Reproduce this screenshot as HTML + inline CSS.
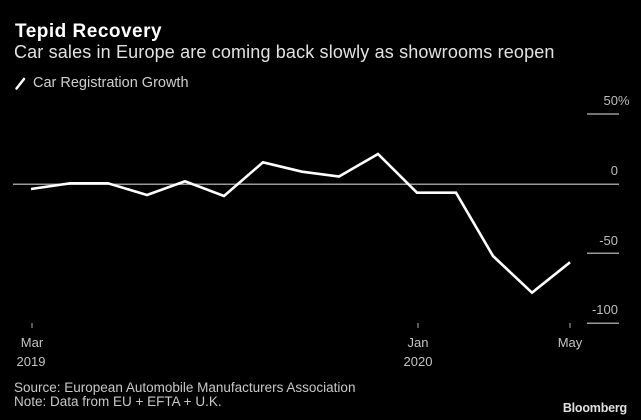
<!DOCTYPE html>
<html><head><meta charset="utf-8"><style>
html,body{margin:0;padding:0;background:#000;}
body{width:641px;height:420px;overflow:hidden;}
svg{display:block;}
</style></head><body>
<svg width="641" height="420" viewBox="0 0 641 420" xmlns="http://www.w3.org/2000/svg">
<rect width="641" height="420" fill="#000"/>
<text x="15" y="37" font-family="Liberation Sans, sans-serif" font-weight="bold" font-size="19" letter-spacing="0.5" fill="#fff">Tepid Recovery</text>
<text x="14" y="58" font-family="Liberation Sans, sans-serif" font-size="18" letter-spacing="0.15" fill="#e2e2e2">Car sales in Europe are coming back slowly as showrooms reopen</text>
<line x1="16.5" y1="88.5" x2="24" y2="79" stroke="#fff" stroke-width="2.5" stroke-linecap="round"/>
<text x="33" y="87" font-family="Liberation Sans, sans-serif" font-size="14.5" fill="#cfcfcf">Car Registration Growth</text>

<!-- grid -->
<line x1="587" y1="114" x2="619" y2="114" stroke="#999" stroke-width="1.5"/>
<line x1="13" y1="184.3" x2="619" y2="184.3" stroke="#999" stroke-width="1.5"/>
<line x1="587" y1="253.3" x2="619" y2="253.3" stroke="#999" stroke-width="1.5"/>
<line x1="587" y1="323.3" x2="619" y2="323.3" stroke="#999" stroke-width="1.5"/>

<g font-family="Liberation Sans, sans-serif" font-size="13" fill="#bdbdbd">
<text x="618" y="105" text-anchor="end">50</text>
<text x="618" y="105">%</text>
<text x="618" y="175" text-anchor="end">0</text>
<text x="618" y="245" text-anchor="end">-50</text>
<text x="618" y="314" text-anchor="end">-100</text>
</g>

<polyline fill="none" stroke="#fff" stroke-width="2.6" stroke-linejoin="miter" points="31,189 70,183.3 108,183.3 147,195 185,181.3 224,196 263,162.3 302,171.7 339,176.5 378,154 417,192.7 456,192.7 493,256 532,292.7 570,262.3"/>

<!-- x ticks -->
<g stroke="#aaa" stroke-width="1">
<line x1="32" y1="323" x2="32" y2="328"/>
<line x1="418" y1="323" x2="418" y2="328"/>
<line x1="570" y1="323" x2="570" y2="328"/>
</g>
<g font-family="Liberation Sans, sans-serif" font-size="13" fill="#c4c4c4" text-anchor="middle">
<text x="32" y="347">Mar</text>
<text x="31" y="366">2019</text>
<text x="418" y="347">Jan</text>
<text x="418" y="366">2020</text>
<text x="570" y="347">May</text>
</g>
<g font-family="Liberation Sans, sans-serif" font-size="13.5" fill="#c8c8c8">
<text x="14" y="392">Source: European Automobile Manufacturers Association</text>
<text x="14" y="406">Note: Data from EU + EFTA + U.K.</text>
</g>
<text x="627" y="412" text-anchor="end" font-family="Liberation Sans, sans-serif" font-weight="bold" font-size="12.5" fill="#e0e0e0" letter-spacing="-0.2">Bloomberg</text>
</svg>
</body></html>
